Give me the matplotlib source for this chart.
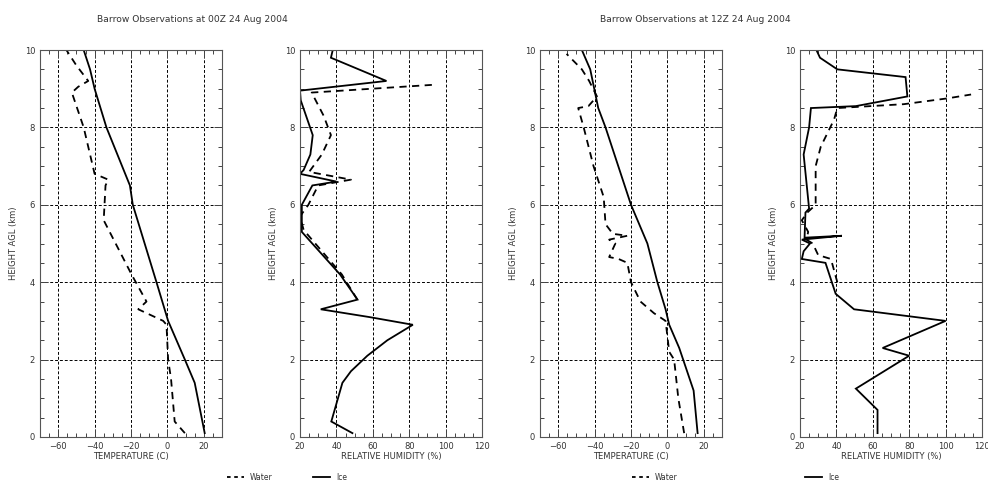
import matplotlib
matplotlib.use("Agg")
import matplotlib.pyplot as plt
from matplotlib.lines import Line2D
from matplotlib.ticker import MultipleLocator

# 00Z sounding
t00_z = [0.1, 1.4, 2.0, 3.0, 4.0, 6.0, 6.5, 8.0, 9.0, 9.5, 10.0]
t00 = [20.5, 15.0, 9.6, 0.4, -6.0, -19.0, -20.6, -33.5, -40.0, -42.5, -46.0]
td00_z = [0.1, 0.4, 1.5, 2.0, 2.9, 3.0, 3.3, 3.5, 4.2, 5.6, 6.5, 6.65, 6.8,
          8.0, 8.9, 9.05, 9.2, 9.6, 10.0]
td00 = [9.6, 4.0, 2.0, 0.4, -0.5, -2.3, -16.0, -11.5, -19.7, -35.0, -34.0,
        -32.5, -40.0, -46.0, -52.5, -49.0, -43.5, -50.0, -55.5]
rhi00_z = [0.1, 0.4, 1.4, 1.7, 2.1, 2.5, 2.9, 3.1, 3.3, 3.55, 4.2, 5.3, 6.0,
           6.5, 6.6, 6.8, 6.9, 7.3, 7.8, 8.7, 8.95, 9.2, 9.8, 10.0]
rhi00 = [48.8, 37.2, 43.3, 48.0, 57.0, 68.0, 82.0, 58.0, 31.4, 51.6, 42.0,
         21.0, 21.0, 26.8, 40.0, 20.0, 22.0, 25.7, 27.0, 20.4, 20.0, 67.5,
         37.0, 38.0]
rhw00_z = [3.55, 4.2, 5.35, 5.7, 6.0, 6.5, 6.65, 6.85, 7.3, 7.8, 8.3, 8.9, 9.1]
rhw00 = [51.5, 43.0, 22.0, 20.0, 24.6, 30.0, 48.0, 25.0, 32.0, 37.0, 33.0,
         26.4, 93.0]

# 12Z sounding
t12_z = [0.1, 1.2, 2.3, 2.9, 3.3, 4.0, 5.0, 6.0, 8.0, 8.5, 9.5, 10.0]
t12 = [16.6, 14.4, 6.5, 1.0, -1.0, -5.5, -11.0, -20.0, -34.0, -38.0, -42.4,
       -47.0]
td12_z = [0.1, 1.0, 2.0, 2.2, 3.0, 3.2, 3.5, 4.0, 4.5, 4.6, 4.65, 5.0, 5.1,
          5.2, 5.25, 5.5, 6.2, 7.0, 8.0, 8.5, 8.55, 8.8, 9.2, 9.5, 9.9]
td12 = [9.2, 6.0, 3.7, 1.0, -1.0, -7.4, -14.8, -20.0, -22.0, -26.8, -32.0,
        -28.6, -32.0, -22.0, -30.0, -34.0, -35.0, -40.6, -46.0, -49.0, -43.4,
        -38.7, -43.0, -47.0, -55.4]
rhi12_z = [0.1, 0.7, 1.25, 2.1, 2.3, 3.0, 3.3, 3.7, 4.5, 4.6, 4.8, 5.0, 5.1,
           5.2, 5.15, 5.8, 5.9, 7.3, 8.0, 8.5, 8.55, 8.8, 9.3, 9.5, 9.8, 10.0]
rhi12 = [62.6, 62.6, 50.7, 80.0, 65.4, 100.0, 49.7, 39.6, 34.0, 21.0, 22.0,
         25.5, 21.0, 43.0, 22.5, 23.0, 25.0, 22.0, 25.0, 26.0, 50.7, 79.0,
         78.0, 40.5, 31.0, 29.0]
rhw12_z = [4.0, 4.6, 4.7, 5.0, 5.1, 5.3, 5.6, 5.8, 6.0, 7.0, 7.5, 8.2, 8.5,
           8.6, 8.75, 8.85]
rhw12 = [40.5, 37.0, 30.0, 27.0, 23.5, 24.5, 21.0, 24.0, 28.6, 28.6, 31.4,
         38.7, 40.5, 77.0, 101.0, 114.0]

titles = ["Barrow Observations at 00Z 24 Aug 2004",
          "Barrow Observations at 12Z 24 Aug 2004"]

TXT = "#333333"
plt.rcParams["font.family"] = "DejaVu Sans"
plt.rcParams["font.size"] = 6

fig = plt.figure(figsize=(9.88, 4.83), dpi=100)

lefts = [40, 300, 540, 800]
panels = [
    ("temp", (t00, t00_z), (td00, td00_z)),
    ("rh", (rhi00, rhi00_z), (rhw00, rhw00_z)),
    ("temp", (t12, t12_z), (td12, td12_z)),
    ("rh", (rhi12, rhi12_z), (rhw12, rhw12_z)),
]

for left, (kind, solid, dashed) in zip(lefts, panels):
    ax = fig.add_axes([left / 988, 1 - 437 / 483, 182 / 988, 387 / 483])
    ax.plot(solid[0], solid[1], color="black", lw=1.3, solid_joinstyle="miter")
    ax.plot(dashed[0], dashed[1], color="black", lw=1.3, ls=(0, (4, 3)))
    if kind == "temp":
        ax.set_xlim(-70, 30)
        ax.set_xticks([-60, -40, -20, 0, 20])
        ax.set_xlabel("TEMPERATURE (C)", color=TXT, labelpad=1)
    else:
        ax.set_xlim(20, 120)
        ax.set_xticks([20, 40, 60, 80, 100, 120])
        ax.set_xlabel("RELATIVE HUMIDITY (%)", color=TXT, labelpad=1)
    ax.xaxis.set_minor_locator(MultipleLocator(5))
    ax.set_ylim(0, 10)
    ax.yaxis.set_major_locator(MultipleLocator(2))
    ax.yaxis.set_minor_locator(MultipleLocator(0.5))
    ax.set_ylabel("HEIGHT AGL (km)", color=TXT, labelpad=5)
    ax.grid(True, which="major", color="black", lw=0.7, ls=(0, (3, 2)))
    ax.tick_params(which="both", direction="in", top=True, right=True,
                   colors="#444444", labelcolor=TXT)
    ax.tick_params(which="major", length=6, width=0.7)
    ax.tick_params(which="minor", length=3, width=0.7)
    for s in ax.spines.values():
        s.set_color("#555555")
        s.set_linewidth(0.8)

fig.text(192 / 988, 1 - 19 / 483, titles[0], ha="center", va="center",
         fontsize=6.6, color=TXT)
fig.text(695 / 988, 1 - 19 / 483, titles[1], ha="center", va="center",
         fontsize=6.6, color=TXT)

water = Line2D([], [], color="black", lw=1.3, ls=(0, (2, 2)), label="Water")
ice = Line2D([], [], color="black", lw=1.3, label="Ice")
for cx, h in [(250, water), (330, ice), (655, water), (822, ice)]:
    fig.legend(handles=[h], loc="center", bbox_to_anchor=(cx / 988, 1 - 477 / 483),
               frameon=False, handlelength=2.2, fontsize=5.5,
               labelcolor=TXT, borderpad=0, handletextpad=0.8)

fig.savefig("out.png", dpi=100)
